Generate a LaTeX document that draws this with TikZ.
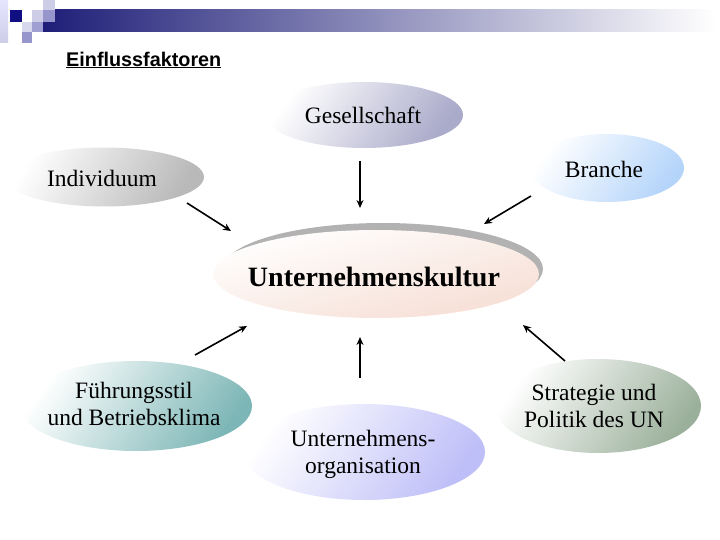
\documentclass[tikz,border=0pt]{standalone}
\usepackage{fontspec}
\setmainfont{Liberation Serif}
\newfontfamily\titlefont{Liberation Sans}
\usetikzlibrary{shapes.geometric,arrows.meta}
\definecolor{navybar}{RGB}{30,30,120}
\definecolor{navysq}{RGB}{15,15,130}
\definecolor{lavlight}{RGB}{205,205,232}
\definecolor{lavmid}{RGB}{150,150,205}
\definecolor{rimgray}{RGB}{178,178,178}
\definecolor{cGes}{RGB}{170,170,202}
\definecolor{cInd}{RGB}{185,185,185}
\definecolor{cBra}{RGB}{180,212,250}
\definecolor{cKul}{RGB}{246,222,212}
\definecolor{cFue}{RGB}{125,182,182}
\definecolor{cOrg}{RGB}{190,190,248}
\definecolor{cStr}{RGB}{155,176,155}
\tikzset{
  label/.style={inner sep=0pt, align=center, font=\fontsize{23.5}{27}\selectfont},
  arr/.style={line width=1.6pt, -{Stealth[length=8pt,width=7pt]}},
}
\begin{document}
\begin{tikzpicture}[x=1pt,y=-1pt]
\useasboundingbox (0,0) rectangle (720,540);
% header
\shade[left color=navybar, right color=white] (43,10) rectangle (715,32);
\shade[top color=white!90!blue, bottom color=lavlight] (0,0) rectangle (8,43);
\fill[navysq] (10,10) rectangle (22,22);
\fill[lavlight] (32,10) rectangle (43,22);
\fill[lavlight] (43,0) rectangle (55,10);
\fill[lavmid] (43,10) rectangle (55,22);
\fill[lavlight!80!white] (22,22) rectangle (32,32);
\fill[lavmid!90!white] (32,22) rectangle (43,32);
\fill[lavmid] (22,32) rectangle (32,43);
\node[font=\titlefont\bfseries\fontsize{19.8}{22}\selectfont, anchor=west, inner sep=0pt] (title) at (66,60) {\underline{Einflussfaktoren}};
% ellipses
\shade[top color=white, bottom color=cGes, shading angle=55] (364,115) ellipse [x radius=99, y radius=33];
\shade[top color=white, bottom color=cBra, shading angle=55] (607,168) ellipse [x radius=77, y radius=34];
\shade[top color=white, bottom color=cInd, shading angle=60] (104,177) ellipse [x radius=100, y radius=29.5];
\fill[rimgray] (383,269) ellipse [x radius=160, y radius=46];
\shade[top color=white, bottom color=cKul, shading angle=15] (376,274) ellipse [x radius=163, y radius=44];
\shade[top color=white, bottom color=cFue, shading angle=55] (136,406) ellipse [x radius=116, y radius=45];
\shade[top color=white, bottom color=cOrg, shading angle=55] (364,452) ellipse [x radius=121, y radius=48];
\shade[top color=white, bottom color=cStr, shading angle=55] (598,406) ellipse [x radius=103, y radius=47];
% texts
\node[label] (ges) at (363,115) {Gesellschaft};
\node[label] (bra) at (604,169) {Branche};
\node[label] (ind) at (102,178) {Individuum};
\node[inner sep=0pt, font=\bfseries\fontsize{28}{32}\selectfont] (kul) at (374,277) {Unternehmenskultur};
\node[label] (fue) at (134,404) {Führungsstil\\und Betriebsklima};
\node[label] (org) at (363,454) {Unternehmens-\\organisation};
\node[label] (str) at (594,406) {Strategie und\\Politik des UN};
% arrow end points
\coordinate (gS) at (360,161);
\coordinate (gE) at (360,208);
\coordinate (iS) at (187,203);
\coordinate (iE) at (231,231);
\coordinate (bS) at (531,196);
\coordinate (bE) at (484,224);
\coordinate (fS) at (195,355);
\coordinate (fE) at (247,326);
\coordinate (oS) at (360,378);
\coordinate (oE) at (360,337);
\coordinate (sS) at (565,361);
\coordinate (sE) at (523,325);
\draw[arr] (gS) -- (gE);
\draw[arr] (iS) -- (iE);
\draw[arr] (bS) -- (bE);
\draw[arr] (fS) -- (fE);
\draw[arr] (oS) -- (oE);
\draw[arr] (sS) -- (sE);
\end{tikzpicture}
\end{document}
